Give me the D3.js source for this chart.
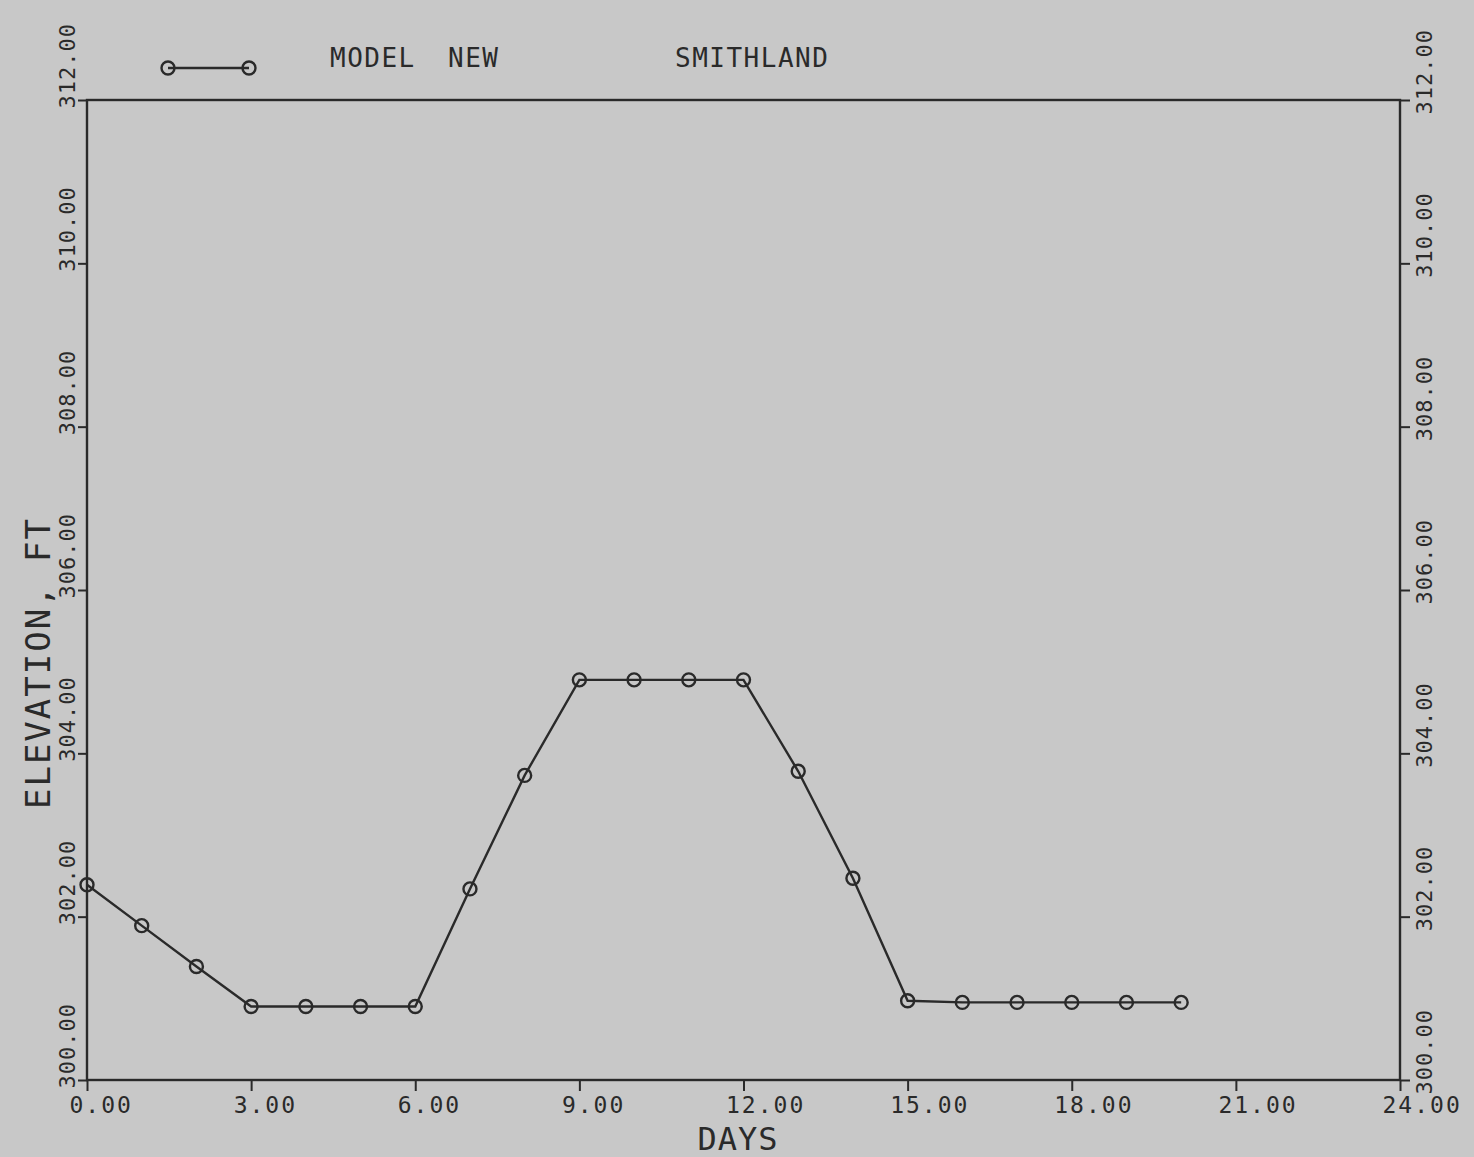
<!DOCTYPE html>
<html>
<head>
<meta charset="utf-8">
<script src="https://cdn.jsdelivr.net/npm/d3@7"></script>
<style>
	html, body { margin: 0; padding: 0; background: #c8c8c8; }
	svg { display: block; }
	text { font-family: "DejaVu Sans Mono", "Liberation Mono", monospace; fill: #2a2a2a; }
</style>
</head>
<body>
<svg id="chart"></svg>
<script>
var days = [0, 1, 2, 3, 4, 5, 6, 7, 8, 9, 10, 11, 12, 13, 14, 15, 16, 17, 18, 19, 20];
var elevation = [302.39, 301.89, 301.39, 300.90, 300.90, 300.90, 300.90, 302.34, 303.73, 304.90,
	304.90, 304.90, 304.90, 303.78, 302.47, 300.97, 300.95, 300.95, 300.95, 300.95, 300.95];
var xTicks = [0, 3, 6, 9, 12, 15, 18, 21, 24];
var yTicks = [300, 302, 304, 306, 308, 310, 312];
var legendLabels = ["MODEL", "NEW", "SMITHLAND"];

var width = 1474,
	height = 1157,
	margin = { top: 100, left: 87, right: 74, bottom: 77 },
	ink = "#2a2a2a";

var svg = d3.select('#chart')
	.attr('width', width)
	.attr('height', height);

svg.append('rect')
	.attr('width', width)
	.attr('height', height)
	.attr('fill', '#c8c8c8');

var x = d3.scaleLinear()
	.domain([0, 24])
	.range([margin.left, width - margin.right]);

var y = d3.scaleLinear()
	.domain([300, 312])
	.range([height - margin.bottom, margin.top]);

var fmt = d3.format('.2f');

// frame
svg.append('rect')
	.attr('x', x(0))
	.attr('y', y(312))
	.attr('width', x(24) - x(0))
	.attr('height', y(300) - y(312))
	.attr('fill', 'none')
	.attr('stroke', ink)
	.attr('stroke-width', 2.4);

// bottom axis
var gx = svg.append('g')
	.attr('transform', 'translate(0,' + y(300) + ')')
	.call(d3.axisBottom(x).tickValues(xTicks).tickSize(11).tickSizeOuter(0).tickFormat(fmt));
gx.select('.domain').remove();
gx.selectAll('.tick line').attr('stroke', ink).attr('stroke-width', 2);
gx.selectAll('.tick text')
	.attr('x', -18)
	.attr('y', 33)
	.attr('dy', 0)
	.attr('text-anchor', 'start')
	.style('font-size', '23px')
	.style('letter-spacing', '2px');

// left axis
var gl = svg.append('g')
	.attr('transform', 'translate(' + x(0) + ',0)')
	.call(d3.axisLeft(y).tickValues(yTicks).tickSize(9).tickSizeOuter(0).tickFormat(fmt));
gl.select('.domain').remove();
gl.selectAll('.tick line').attr('stroke', ink).attr('stroke-width', 2);
gl.selectAll('.tick text')
	.attr('x', 0)
	.attr('y', 0)
	.attr('dy', 0)
	.attr('text-anchor', 'start')
	.attr('transform', 'translate(-12,8) rotate(-90)')
	.style('font-size', '22px')
	.style('letter-spacing', '1px');

// right axis
var gr = svg.append('g')
	.attr('transform', 'translate(' + x(24) + ',0)')
	.call(d3.axisRight(y).tickValues(yTicks).tickSize(10).tickSizeOuter(0).tickFormat(fmt));
gr.select('.domain').remove();
gr.selectAll('.tick line').attr('stroke', ink).attr('stroke-width', 2);
gr.selectAll('.tick text')
	.attr('x', 0)
	.attr('y', 0)
	.attr('dy', 0)
	.attr('text-anchor', 'start')
	.attr('transform', 'translate(32,14) rotate(-90)')
	.style('font-size', '22px')
	.style('letter-spacing', '1px');

// axis titles
svg.append('text')
	.attr('x', 738)
	.attr('y', 1150)
	.attr('text-anchor', 'middle')
	.style('font-size', '32px')
	.style('letter-spacing', '1px')
	.text('DAYS');

svg.append('text')
	.attr('transform', 'translate(50,663) rotate(-90)')
	.attr('text-anchor', 'middle')
	.style('font-size', '34px')
	.style('letter-spacing', '2px')
	.text('ELEVATION, FT');

// series
var pts = days.map(function(d, i){
	return [d, elevation[i]];
});

var line = d3.line()
	.x(function(d){ return x(d[0]); })
	.y(function(d){ return y(d[1]); });

svg.append('path')
	.datum(pts)
	.attr('d', line)
	.attr('fill', 'none')
	.attr('stroke', ink)
	.attr('stroke-width', 2.4);

svg.selectAll('.pt')
	.data(pts)
	.enter().append('circle')
	.attr('class', 'pt')
	.attr('cx', function(d){ return x(d[0]); })
	.attr('cy', function(d){ return y(d[1]); })
	.attr('r', 6.5)
	.attr('fill', 'none')
	.attr('stroke', ink)
	.attr('stroke-width', 2.4);

// legend
var legend = svg.append('g');
legend.append('line')
	.attr('x1', 168).attr('x2', 249)
	.attr('y1', 68).attr('y2', 68)
	.attr('stroke', ink)
	.attr('stroke-width', 2.4);
legend.selectAll('circle')
	.data([168, 249])
	.enter().append('circle')
	.attr('cx', function(d){ return d; })
	.attr('cy', 68)
	.attr('r', 6.5)
	.attr('fill', 'none')
	.attr('stroke', ink)
	.attr('stroke-width', 2.4);
legend.selectAll('text')
	.data(legendLabels)
	.enter().append('text')
	.attr('x', function(d, i){ return [330, 448, 675][i]; })
	.attr('y', 67)
	.style('font-size', '26px')
	.style('letter-spacing', '1.5px')
	.text(function(d){ return d; });
</script>
</body>
</html>
